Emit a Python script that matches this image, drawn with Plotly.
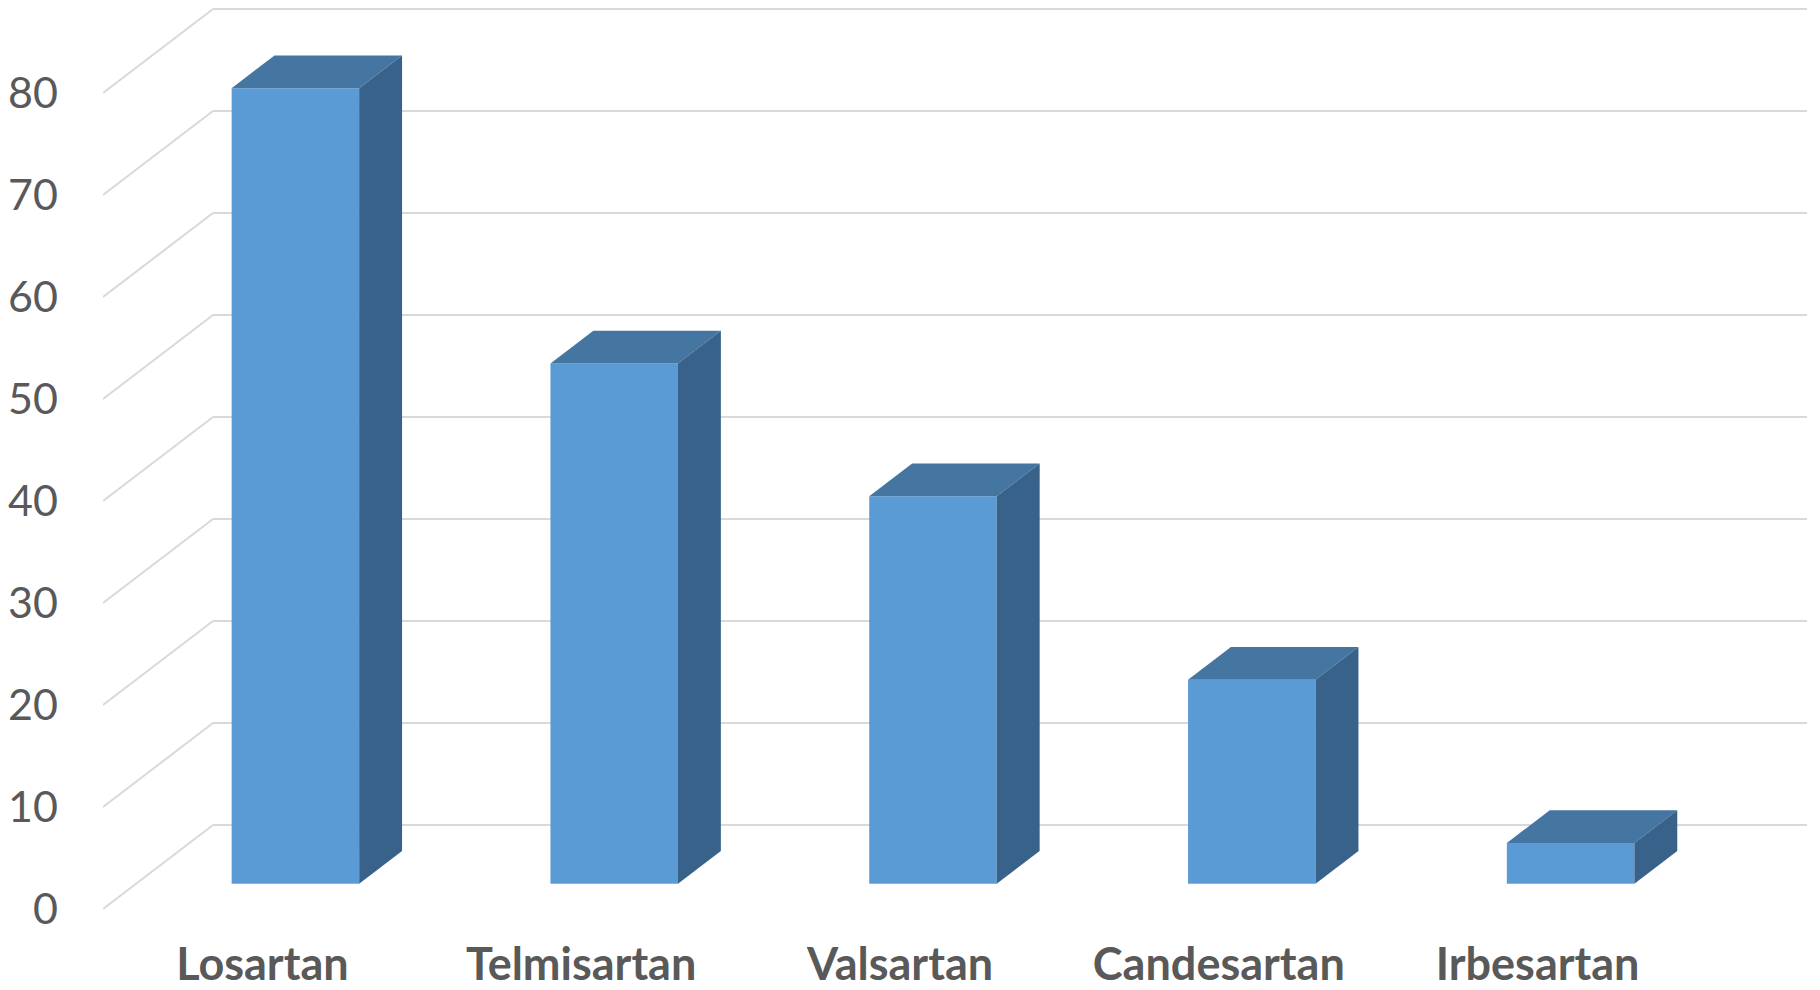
import plotly.graph_objects as go

# ---- data ----
categories = ["Losartan", "Telmisartan", "Valsartan", "Candesartan", "Irbesartan"]
values = [78, 51, 38, 20, 4]
y_ticks = [0, 10, 20, 30, 40, 50, 60, 70, 80]

# ---- oblique 3D projection settings (in axis units) ----
DX = 0.345     # depth offset along x (category units)
DY = 8.235     # depth offset along y (value units)
F0 = 0.30      # depth fraction of bar front face
F1 = 0.69      # depth fraction of bar back face
W = 0.40       # bar width (category units)

FRONT = "#5B9BD5"
TOP = "#4575A1"
SIDE = "#386289"
GRID = "#D9D9D9"
TXT = "#595959"

W_PX, H_PX = 1812, 982
m_l, m_r, m_t, m_b = 95, 13, 0, 60
px_per_unit_y = 10.2
x_range = [-0.5, len(categories) - 0.5 + DX]
y_max = max(y_ticks) + DY + 1.0 / px_per_unit_y
y_min = y_max - (H_PX - m_t - m_b) / px_per_unit_y

fig = go.Figure()

# front faces via bar trace
fig.add_trace(go.Bar(
    x=[i + F0 * DX for i in range(len(categories))],
    y=values,
    base=[F0 * DY] * len(values),
    width=W,
    marker=dict(color=FRONT, line=dict(width=0)),
    hoverinfo="skip",
    showlegend=False,
))

# top and side faces
for i, v in enumerate(values):
    cx = i + F0 * DX
    xl, xr = cx - W / 2, cx + W / 2
    b = F0 * DY
    d = F1 - F0
    ddx, ddy = d * DX, d * DY
    top_x = [xl, xr, xr + ddx, xl + ddx, xl]
    top_y = [b + v, b + v, b + v + ddy, b + v + ddy, b + v]
    fig.add_trace(go.Scatter(x=top_x, y=top_y, fill="toself", fillcolor=TOP,
                             mode="lines", line=dict(width=0, color=TOP),
                             hoverinfo="skip", showlegend=False))
    side_x = [xr, xr + ddx, xr + ddx, xr, xr]
    side_y = [b, b + ddy, b + v + ddy, b + v, b]
    fig.add_trace(go.Scatter(x=side_x, y=side_y, fill="toself", fillcolor=SIDE,
                             mode="lines", line=dict(width=0, color=SIDE),
                             hoverinfo="skip", showlegend=False))

# gridlines: back wall and left wall
shapes = []
for t in y_ticks:
    shapes.append(dict(type="line", xref="x", yref="y", layer="below",
                       x0=-0.5 + DX, x1=len(categories) - 0.5 + DX,
                       y0=t + DY, y1=t + DY,
                       line=dict(color=GRID, width=2)))
    shapes.append(dict(type="line", xref="x", yref="y", layer="below",
                       x0=-0.5, x1=-0.5 + DX, y0=t, y1=t + DY,
                       line=dict(color=GRID, width=2)))

fig.update_layout(
    width=W_PX, height=H_PX,
    margin=dict(l=m_l, r=m_r, t=m_t, b=m_b, pad=0, autoexpand=False),
    paper_bgcolor="white", plot_bgcolor="white",
    shapes=shapes,
    showlegend=False,
    xaxis=dict(range=x_range, showgrid=False, zeroline=False, showline=False,
               automargin=False,
               tickmode="array", tickvals=list(range(len(categories))),
               ticktext=categories, ticks="",
               tickfont=dict(family="Lato", size=45, color=TXT, weight="bold"),
               ticklabelstandoff=4, fixedrange=True),
    yaxis=dict(range=[y_min, y_max], showgrid=False, zeroline=False, showline=False,
               automargin=False,
               tickmode="array", tickvals=y_ticks, ticks="",
               tickfont=dict(family="Lato", size=43, color=TXT),
               ticklabelstandoff=44, fixedrange=True),
)

fig.write_html("out.html")
